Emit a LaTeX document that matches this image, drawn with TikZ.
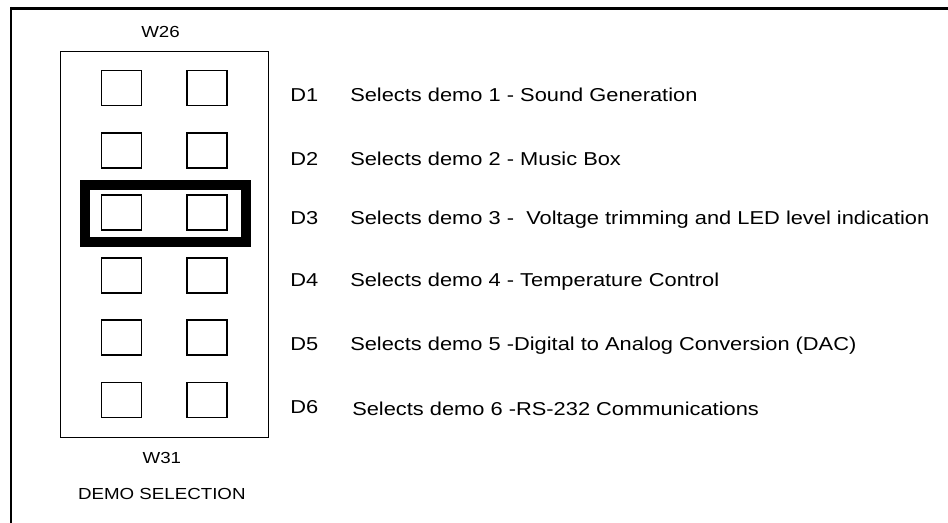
\documentclass[tikz,border=0pt]{standalone}
\usepackage{fontspec}
\setmainfont{Liberation Sans}[FakeStretch=1.17]
\usepackage{tikz}
\usetikzlibrary{positioning}

\begin{document}
\begin{tikzpicture}[x=0.75pt, y=-0.75pt,
    jumper/.style={draw, line width=1pt, minimum width=30pt, minimum height=26.25pt, inner sep=0pt},
    demo/.style={anchor=base west, inner sep=0pt, font=\fontsize{14}{16}\selectfont},
    tag/.style={inner sep=0pt, font=\fontsize{12}{14}\selectfont}]
        \useasboundingbox (0,0) rectangle (948,523);
        % page frame, only top and left edges
        \draw[line width=2.5pt] (10.5,8.3) -- (948,8.3);
        \draw[line width=1.5pt] (10.5,7) -- (10.5,523);

        % header block with its two rows of pins
        \node[draw, line width=1.2pt, minimum width=156pt, minimum height=289.5pt] (header) at (164.5,244.5) {};
        \foreach \r/\y in {1/88,2/150.5,3/212.5,4/275.5,5/337.5,6/400} {
            \node[jumper] (p\r-a) at (121.5,\y) {};
            \node[jumper] (p\r-b) at (207,\y) {};
        }
        \node[draw, line width=7.5pt, minimum width=120.75pt, minimum height=42.75pt] (sel) at (165.5,213.5) {};

        \node[tag, above=9.5pt of header, xshift=-3pt] (w26) {W26};
        \node[tag, below=10.5pt of header, xshift=-2pt] (w31) {W31};
        \node[tag, below=18pt of w31] (title) {DEMO SELECTION};

        % jumper positions
        \node[demo] (d1) at (290,102) {D1};
        \node[demo] (s1) at (350,102) {Selects demo 1 - Sound Generation};
        \node[demo] (d2) at (290,166) {D2};
        \node[demo] (s2) at (350,166) {Selects demo 2 - Music Box};
        \node[demo] (d3) at (290,225) {D3};
        \node[demo] (s3) at (350,225) {Selects demo 3 -~ Voltage trimming and LED level indication};
        \node[demo] (d4) at (290,287) {D4};
        \node[demo] (s4) at (350,287) {Selects demo 4 - Temperature Control};
        \node[demo] (d5) at (290,351) {D5};
        \node[demo] (s5) at (350,351) {Selects demo 5 -Digital to Analog Conversion (DAC)};
        \node[demo] (d6) at (290,413) {D6};
        \node[demo] (s6) at (352,415) {Selects demo 6 -RS-232 Communications};
    \end{tikzpicture}
\end{document}
